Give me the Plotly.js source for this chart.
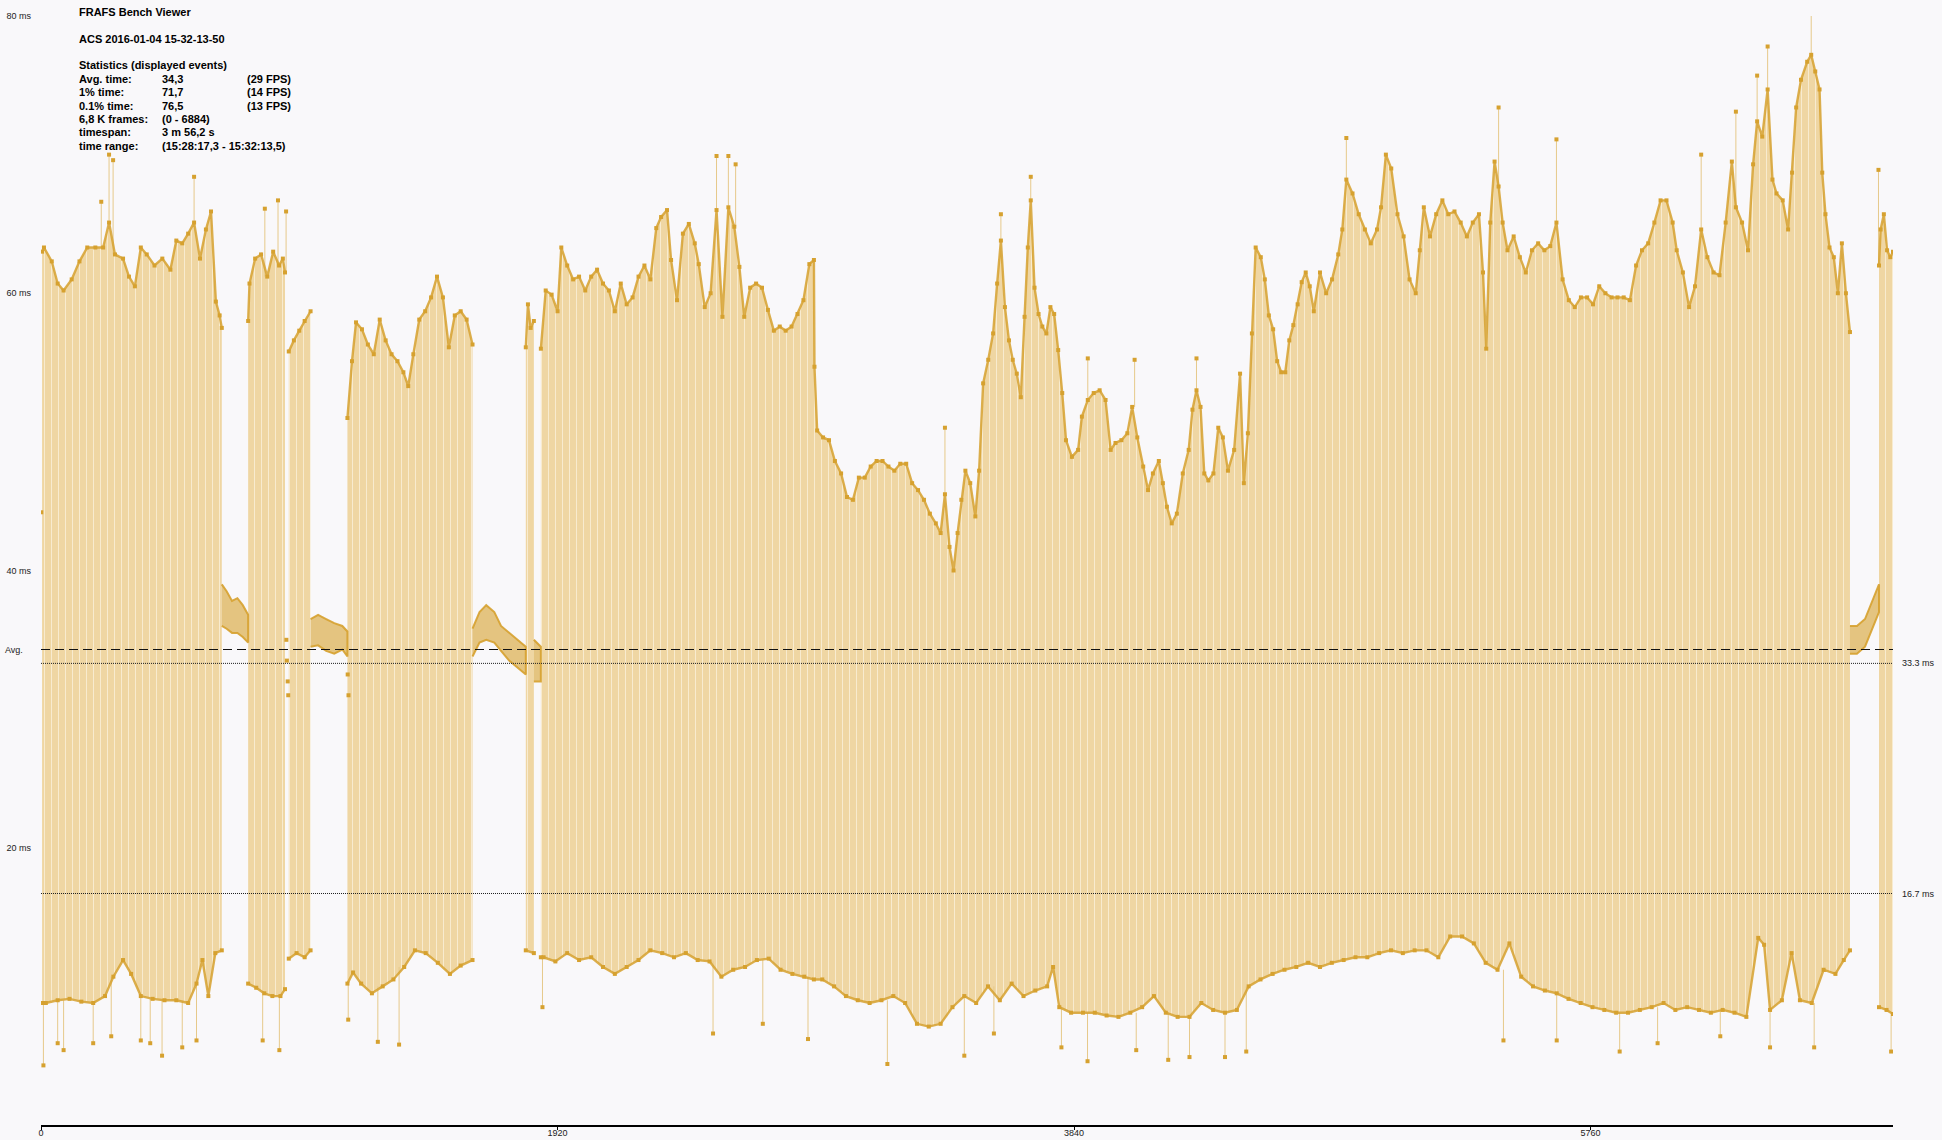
<!DOCTYPE html>
<html><head><meta charset="utf-8">
<script src="https://cdn.plot.ly/plotly-3.0.1.min.js"></script>
<style>html,body{margin:0;padding:0;background:#f9f8fa;}#chart{width:1942px;height:1140px;}</style>
</head><body><div id="chart"></div>
<script>
// ---------- DATA (frame index, frame time in ms) ----------
// upper envelope of the alternating frame times (segments separated by null)
const hiFrames = [4,11,40,62,84,114,143,172,202,231,253,275,305,327,349,371,393,422,451,481,503,525,547,569,591,613,632,650,664,672,
 null,770,775,796,818,841,863,885,899,907,
 null,921,940,960,980,1002,
 null,1139,1156,1171,1193,1215,1237,1259,1281,1303,1325,1347,1365,1384,1406,1428,1450,1472,1494,1516,1538,1560,1582,1604,
 null,1802,1810,1820,1832,
 null,1858,1876,1898,1920,1934,1956,1978,2000,2023,2045,2067,2089,2111,2133,2155,2177,2199,2221,2243,2265,2287,2305,2327,2342,2364,2386,2408,2430,2445,2467,2489,2511,2533,2555,2577,2596,2614,2636,2658,2680,2702,2724,2746,2768,2790,2812,2834,2856,2873,
 2875,2885,2907,2929,2951,2974,2996,3018,3040,3062,3084,3106,3128,3150,3172,3194,3216,3238,3260,3282,3304,3326,3344,3360,3377,3392,3407,3421,3436,3454,3473,3487,3502,3521,3539,3554,3568,3583,3598,3612,3627,3642,3656,3668,3679,3693,3708,3722,3737,3752,3766,3781,3796,3810,3832,3855,3869,3891,3913,3935,3957,3976,3994,4016,4038,4056,4075,4097,4115,4133,4155,4170,4185,4203,4222,4244,4266,4280,4295,4310,4324,4339,4358,4376,4393,4412,4435,4457,4471,4486,4501,4515,
 4534,4549,4564,4580,4595,4610,4625,4640,4655,4671,4686,4701,4716,4731,4754,4777,4799,4822,4837,4852,4875,4898,4921,4943,4966,4981,4999,5019,5042,5065,5087,5110,5125,5140,5163,5186,5209,5231,5254,5277,5300,5322,5345,5360,5372,5387,5403,5418,5433,5451,5474,5497,5519,5542,5565,5588,5610,5633,5656,5679,5701,5724,5747,5769,5792,5815,5838,5860,5883,5906,5929,5951,5974,5997,6020,6042,6065,6080,6103,6126,6148,6171,6194,6217,6239,6262,6285,6300,6323,6345,6364,6379,6398,6418,6436,6451,6474,6494,6509,6524,6542,6565,6580,6595,6611,6621,6633,6648,6664,6679,6694,6709,6724,
 null,6832,6838,6850,6862,6874,6884];
const hiMs = [63.0,63.3,62.3,60.7,60.2,61.0,62.3,63.3,63.3,63.3,65.1,62.8,62.5,61.2,60.5,63.3,62.8,62.0,62.5,61.7,63.8,63.6,64.3,65.1,62.5,64.6,65.9,59.4,58.4,57.5,
 null,58.0,60.7,62.5,62.8,61.2,63.0,62.0,62.5,61.5,
 null,55.8,56.6,57.3,58.0,58.7,
 null,51.0,55.1,57.9,57.4,56.3,55.6,58.1,56.6,55.6,55.1,54.3,53.3,55.6,58.1,58.7,59.7,61.2,59.7,56.1,58.4,58.7,58.1,56.3,
 null,56.1,59.2,57.5,58.0,
 null,56.0,60.2,59.9,58.7,63.3,62.0,61.0,61.2,60.2,61.2,61.7,60.7,60.2,58.7,60.7,59.2,59.7,61.2,62.0,61.0,64.7,65.5,66.0,62.4,59.5,64.3,65.0,63.6,62.1,59.0,60.0,66.0,58.3,66.2,64.8,61.9,58.3,60.4,60.7,60.4,58.8,57.3,57.6,57.3,57.6,58.5,59.5,62.1,62.4,
 54.7,50.1,49.6,49.4,47.9,47.0,45.3,45.1,46.7,46.7,47.5,47.9,47.9,47.5,47.2,47.7,47.7,46.3,45.8,45.1,44.1,43.4,42.7,45.5,41.7,40.0,42.7,45.1,47.2,46.3,43.9,47.2,53.5,55.2,57.1,60.7,63.8,59.0,56.6,55.2,54.2,52.5,58.3,63.3,66.7,60.4,58.5,57.6,57.1,59.0,58.5,55.9,52.8,49.4,48.2,48.7,51.1,52.3,52.8,53.0,52.3,48.7,49.2,49.4,49.9,51.8,49.6,47.5,45.8,47.0,47.9,46.3,44.6,43.4,44.1,47.0,48.7,51.6,53.0,51.8,47.0,46.5,47.0,50.3,49.6,47.2,48.7,54.2,46.3,49.9,57.1,63.3,
 62.6,61.0,58.4,57.4,55.1,54.3,54.3,56.6,57.7,59.2,60.8,61.5,60.5,58.7,61.5,60.0,61.0,62.8,64.6,68.2,67.2,65.7,64.6,63.6,64.6,66.2,70.0,69.0,65.7,64.1,61.0,60.0,63.1,66.2,64.1,65.7,66.7,65.7,65.9,65.1,64.1,65.1,65.7,61.5,56.0,65.1,69.5,67.7,65.1,63.1,64.1,62.6,61.5,63.1,63.6,63.1,63.4,65.1,61.0,59.5,59.0,59.7,59.7,59.2,60.5,60.0,59.7,59.7,59.7,59.5,62.0,63.1,63.6,65.1,66.7,66.7,65.1,63.1,61.5,59.0,60.5,64.6,62.6,61.5,61.3,65.1,69.5,66.2,65.1,63.1,69.3,72.4,71.3,74.7,68.2,67.2,66.7,64.6,68.7,73.4,75.4,76.7,77.2,76.0,74.7,68.7,65.7,63.3,62.6,60.0,63.6,60.0,57.2,
 null,62.0,64.6,65.7,63.1,62.6,63.0];

// lower envelope of the alternating frame times (same segments)
const loFrames = [4,18,62,106,150,194,238,269,305,335,371,415,459,503,547,578,600,622,648,672,
 null,770,800,830,860,890,907,
 null,921,950,980,1002,
 null,1139,1160,1190,1230,1270,1310,1350,1390,1430,1475,1520,1560,1604,
 null,1802,1832,
 null,1858,1868,1912,1956,2000,2045,2089,2133,2177,2221,2265,2309,2353,2397,2441,2485,2529,2573,2617,2661,2705,2749,2793,2837,2873,2904,2948,2992,3036,3080,3124,3168,3212,3256,3300,3344,3388,3432,3476,3520,3564,3608,3652,3696,3740,3762,3785,3829,3873,3917,3961,4005,4049,4093,4137,4181,4225,4269,4313,4357,4401,4445,4489,4533,4578,4622,4666,4710,4754,4798,4842,4886,4930,4974,5018,5062,5106,5150,5194,5238,5282,5326,5370,5414,5458,5502,5546,5590,5634,5678,5723,5767,5811,5855,5899,5943,5987,6031,6075,6119,6163,6207,6251,6295,6339,6383,6405,6427,6471,6507,6538,6582,6626,6670,6701,6724,
 null,6832,6860,6884];
const loMs = [8.8,8.8,9.0,9.1,8.9,8.8,9.3,10.7,11.9,10.9,9.3,9.1,9.0,9.0,8.8,10.2,11.9,9.3,12.4,12.6,
 null,10.2,9.9,9.5,9.3,9.3,9.8,
 null,12.0,12.4,12.1,12.6,
 null,10.2,11.0,10.2,9.5,10.0,10.5,11.4,12.6,12.4,11.7,10.9,11.5,11.9,
 null,12.6,12.4,
 null,12.1,12.1,11.8,12.4,11.9,12.1,11.4,10.9,11.4,11.9,12.6,12.4,12.1,12.4,11.9,11.8,10.7,11.2,11.4,11.9,12.0,11.2,10.9,10.7,10.5,10.5,10.0,9.3,9.0,8.8,9.0,9.3,8.8,7.3,7.1,7.3,8.5,9.3,8.8,10.0,9.0,10.2,9.3,9.7,10.0,11.4,8.5,8.1,8.1,8.1,7.9,7.8,8.1,8.5,9.3,8.1,7.8,7.8,8.8,8.3,8.1,8.3,10.0,10.5,10.9,11.2,11.4,11.7,11.4,11.7,11.9,12.1,12.1,12.4,12.6,12.4,12.6,12.6,12.1,13.6,13.6,13.1,11.7,11.2,13.1,10.7,10.0,9.7,9.5,9.1,8.8,8.5,8.3,8.1,8.1,8.3,8.5,8.8,8.3,8.5,8.3,8.1,8.3,8.1,7.8,13.5,13.0,8.3,9.0,12.4,9.0,8.8,11.2,10.9,11.9,12.6,
 null,8.5,8.3,8.0];

// runs of steady frame times (no alternation): upper and lower edge of the dot cloud
const clusterFrames = [672,690,710,730,750,770, null,1002,1030,1060,1090,1120,1139, null,1604,1630,1655,1685,1710,1740,1770,1802, null,1832,1858, null,6724,6750,6780,6810,6832];
const clusterHigh = [39.0,38.5,37.8,38.0,37.5,36.8, null,36.5,36.8,36.5,36.2,36.0,35.6, null,35.8,37.0,37.5,37.0,36.0,35.5,35.0,34.5, null,35.0,34.5, null,36.0,36.0,36.5,38.0,39.0];
const clusterLow  = [36.0,35.8,35.5,35.5,35.2,34.8, null,34.5,34.6,34.2,34.0,34.3,33.8, null,33.8,34.8,35.0,34.8,34.2,33.5,33.0,32.5, null,32.0,32.0, null,34.0,34.0,34.5,36.0,37.0];

// isolated long frames (spikes above) and short frames (dips below)
const spikeFrames = [224,253,268,569,832,881,911,2511,2555,2582,3360,3568,3679,3891,4065,4295,4852,5418,5633,6171,6300,6379,6418,6580,6830];
const spikeMs     = [66.6,70.0,69.6,68.4,66.1,66.7,65.9,69.9,69.9,69.3,50.3,65.7,68.4,55.3,55.2,55.3,71.2,73.4,71.1,70.0,73.1,75.7,77.8,80.5,68.9];
const dipFrames = [9,62,84,194,261,371,406,450,525,578,824,886,1142,1252,1331,1864,2498,2683,2851,3146,3432,3542,3793,3890,4071,4190,4269,4401,4480,5436,5634,5868,6009,6242,6427,6591,6877];
const dipMs     = [4.3,5.9,5.4,5.9,6.4,6.1,5.9,5.0,5.6,6.1,6.1,5.4,7.6,6.0,5.8,8.5,6.6,7.3,6.2,4.4,5.0,6.6,5.6,4.6,5.4,4.7,4.9,4.9,5.3,6.1,6.1,5.3,5.9,6.4,5.6,5.6,5.3];
const strayFrames = [1,912,914,917,919,1140,1143];
const strayMs     = [44.2,35.0,33.5,32.0,31.0,32.5,31.0];

// axis / reference values and texts
const xTicks = [0,1920,3840,5760];
const yTicks = [20,40,60,80];
const yTickText = ['20 ms','40 ms','60 ms','80 ms'];
const lastFrame = 6884;
const avgTime = 34.3;
const refLines = [33.3,16.7];
const refLabels = ['33.3 ms','16.7 ms'];
const titleLines = ['FRAFS Bench Viewer','ACS 2016-01-04 15-32-13-50','Statistics (displayed events)'];
const statLabels = ['Avg. time:','1% time:','0.1% time:','6,8 K frames:','timespan:','time range:'];
const statValues = ['34,3','71,7','76,5','(0 - 6884)','3 m 56,2 s','(15:28:17,3 - 15:32:13,5)'];
const statFps = ['(29 FPS)','(14 FPS)','(13 FPS)','','',''];

// ---------- DRAWING ----------
const FILL = '#EFD6A3';
const DOT = '#D6A12F';
const BG = '#F9F8FA';
const FONT = 'Liberation Sans, Arial, sans-serif';

function splitSeg(xs, ys, zs) {
  const segs = []; let cur = {x:[], y:[], z:[]};
  for (let i = 0; i < xs.length; i++) {
    if (xs[i] === null) { if (cur.x.length) segs.push(cur); cur = {x:[], y:[], z:[]}; }
    else { cur.x.push(xs[i]); cur.y.push(ys[i]); if (zs) cur.z.push(zs[i]); }
  }
  if (cur.x.length) segs.push(cur);
  return segs;
}
function nearest(frames, vals, f) {
  let best = null, bd = Infinity;
  for (let i = 0; i < frames.length; i++) {
    if (frames[i] === null) continue;
    const d = Math.abs(frames[i] - f);
    if (d < bd) { bd = d; best = vals[i]; }
  }
  return best;
}

const traces = [];
const hiSegs = splitSeg(hiFrames, hiMs), loSegs = splitSeg(loFrames, loMs);
hiSegs.forEach((h, i) => {
  const l = loSegs[i];
  traces.push({type:'scatter', mode:'lines', x: h.x.concat(l.x.slice().reverse()), y: h.y.concat(l.y.slice().reverse()),
    fill:'toself', fillcolor: FILL,
    fillpattern:{shape:'|', bgcolor: FILL, fgcolor:'#FBF2DF', fgopacity:0.75, size:7, solidity:0.14},
    line:{width:0, color:FILL}, hoverinfo:'skip', showlegend:false});
});

// spike and dip lines
const sx = [], sy = [];
spikeFrames.forEach((f, i) => { sx.push(f, f, null); sy.push(nearest(hiFrames, hiMs, f), spikeMs[i], null); });
dipFrames.forEach((f, i) => { sx.push(f, f, null); sy.push(nearest(loFrames, loMs, f), dipMs[i], null); });
traces.push({type:'scatter', mode:'lines', x:sx, y:sy, line:{width:1, color:'#E6C98A'}, hoverinfo:'skip', showlegend:false});

// clusters
splitSeg(clusterFrames, clusterHigh, clusterLow).forEach(c => {
  traces.push({type:'scatter', mode:'lines', x: c.x.concat(c.x.slice().reverse()), y: c.y.concat(c.z.slice().reverse()),
    fill:'toself', fillcolor:'rgba(214,161,47,0.6)', line:{width:2, color:'rgba(214,161,47,0.9)'}, hoverinfo:'skip', showlegend:false});
});

// envelope dots
traces.push({type:'scatter', mode:'lines+markers', x: hiFrames, y: hiMs, connectgaps:false,
  line:{width:2.4, color:'rgba(214,161,47,0.85)'}, marker:{symbol:'square', size:4, color:DOT}, hoverinfo:'skip', showlegend:false});
traces.push({type:'scatter', mode:'lines+markers', x: loFrames, y: loMs, connectgaps:false,
  line:{width:2.4, color:'rgba(214,161,47,0.85)'}, marker:{symbol:'square', size:4, color:DOT}, hoverinfo:'skip', showlegend:false});
traces.push({type:'scatter', mode:'markers', x: spikeFrames.concat(dipFrames, strayFrames), y: spikeMs.concat(dipMs, strayMs),
  marker:{symbol:'square', size:4, color:DOT}, hoverinfo:'skip', showlegend:false});

const ML = 41, MR = 49, MT = 16, MB = 15, W = 1942, H = 1140;
const PW = W - ML - MR, PH = H - MT - MB;
const px = p => (p - ML) / PW;
const py = p => (H - MB - p) / PH;

const ann = [];
function txt(t, x, y, opt) {
  ann.push(Object.assign({text:t, xref:'paper', yref:'paper', x:px(x), y:py(y), xanchor:'left', yanchor:'middle',
    showarrow:false, font:{family:FONT, size:11, color:'#000', weight:'bold'}}, opt || {}));
}
txt(titleLines[0], 77, 12); txt(titleLines[1], 77, 39); txt(titleLines[2], 77, 65);
statLabels.forEach((s, i) => {
  const y = 79 + i * 13.35;
  txt(s, 77, y); txt(statValues[i], 160, y); if (statFps[i]) txt(statFps[i], 245, y);
});
ann.push({text:'Avg.', xref:'paper', yref:'y', x:px(3), y:avgTime, xanchor:'left', yanchor:'middle', showarrow:false,
  font:{family:FONT, size:9, color:'#222'}});
refLines.forEach((v, i) => ann.push({text:refLabels[i], xref:'paper', yref:'y', x:px(1900), y:v, xanchor:'left', yanchor:'middle',
  showarrow:false, font:{family:FONT, size:9, color:'#222'}}));

const shapes = [
  {type:'line', xref:'x', yref:'y', x0:0, x1:lastFrame, y0:avgTime, y1:avgTime, layer:'above', line:{color:'#111', width:1.2, dash:'9px,5px'}},
].concat(refLines.map(v => ({type:'line', xref:'x', yref:'y', x0:0, x1:lastFrame, y0:v, y1:v, layer:'above', line:{color:'#222', width:1, dash:'1px,1px'}})));

const layout = {
  width: W, height: H, margin:{l:ML, r:MR, t:MT, b:MB, pad:0},
  paper_bgcolor: BG, plot_bgcolor: BG, showlegend:false,
  xaxis:{range:[0,lastFrame], showgrid:false, zeroline:false, showline:true, linecolor:'#000', linewidth:1.5,
    ticks:'outside', ticklen:3, tickwidth:1, tickcolor:'#000', tickvals:xTicks, ticktext:xTicks.map(String),
    ticklabelstandoff:-4, tickfont:{family:FONT, size:9, color:'#222'}, fixedrange:true},
  yaxis:{range:[0,80], showgrid:false, zeroline:false, showline:false, ticks:'', tickvals:yTicks, ticktext:yTickText,
    ticklabelstandoff:9, tickfont:{family:FONT, size:9, color:'#222'}, fixedrange:true},
  annotations: ann, shapes: shapes
};
Plotly.newPlot('chart', traces, layout, {staticPlot:true, displayModeBar:false});
</script></body></html>
